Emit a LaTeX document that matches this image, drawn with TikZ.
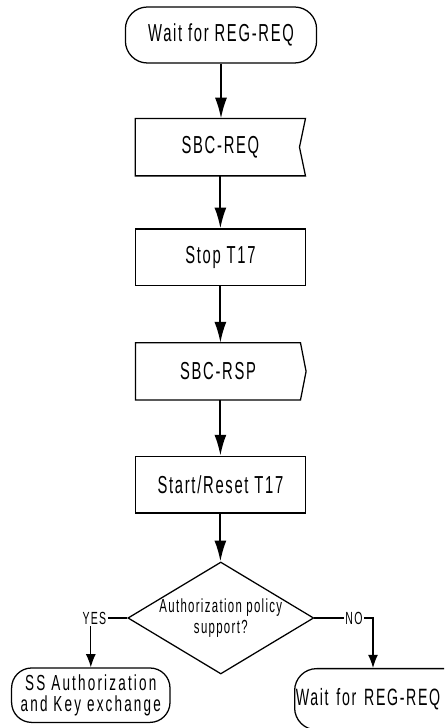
\documentclass[tikz,border=0pt]{standalone}
\usepackage{fontspec}
\setmainfont{Liberation Sans}[FakeStretch=0.6,LetterSpace=7]
\newfontfamily\spreadfont{Liberation Sans}[FakeStretch=0.62,LetterSpace=10]
\usetikzlibrary{calc,arrows.meta,shapes.geometric}

\begin{document}
\begin{tikzpicture}[
    terminal/.style={draw,line width=0.9pt,rounded corners=0.55cm,minimum width=4.78cm,minimum height=1.4cm,font=\fontsize{17.5}{18}\selectfont},
    process/.style={draw,line width=0.9pt,minimum width=4.24cm,minimum height=1.42cm,font=\fontsize{17.5}{18}\selectfont},
    signal/.style={inner sep=0pt,minimum width=4.24cm,minimum height=1.42cm,font=\fontsize{17.5}{18}\selectfont},
    decision/.style={draw,line width=0.9pt,diamond,aspect=1.66,inner sep=0pt,minimum width=4.12cm,minimum height=2.48cm,align=center,font=\fontsize{13.5}{14.5}\selectfont},
    branch/.style={inner sep=1pt,font=\fontsize{12.5}{13}\selectfont},
    bigarrow/.style={line width=1.3pt,-{Latex[length=5.2mm,width=3mm]}},
    smallarrow/.style={line width=0.9pt,-{Latex[length=3.3mm,width=2.5mm]}}
  ]
  \clip (0,0) rectangle (11.1,18.2);
  % chain of states and signals
  \node[terminal](wait)at(5.525,17.325){Wait for REG-REQ};
  \node[signal](req)at(5.51,14.52){SBC-REQ};
  \draw[line width=0.9pt] (req.north west) -- (req.north east) -- ([xshift=-0.15cm]req.east) -- (req.south east) -- (req.south west) -- cycle;
  \node[process](stop)at(5.51,11.765){Stop T17};
  \node[signal,minimum width=4.11cm](rsp)at(5.45,8.915){SBC-RSP};
  \draw[line width=0.9pt] (rsp.north west) -- (rsp.north east) -- ([xshift=0.14cm]rsp.east) -- (rsp.south east) -- (rsp.south west) -- cycle;
  \node[process](start)at(5.51,6.085){Start/Reset T17};
  \node[decision](auth)at(5.52,2.75){Authorization policy\\support?};
  \draw[bigarrow] (wait) -- (wait |- req.north);
  \draw[bigarrow] (req) -- (req |- stop.north);
  \draw[bigarrow] (stop) -- (stop |- rsp.north);
  \draw[bigarrow] (rsp.south -| stop) -- (start);
  \draw[bigarrow] (start) -- (start |- auth.north);
  % branches
  \node[branch](yes)at(2.36,2.75){YES};
  \node[branch](no)at(8.85,2.75){NO};
  \node[terminal,rounded corners=0.5cm,minimum width=3.96cm,minimum height=1.36cm,inner sep=0pt,align=center,font=\spreadfont\fontsize{15.5}{14.5}\selectfont](ss)at(2.27,0.82){SS Authorization\\and Key exchange};
  \node[terminal,anchor=north west,text width=4.72cm,inner xsep=0.03cm,align=left,minimum height=1.53cm,font=\fontsize{16.8}{18}\selectfont](again)at(7.35,1.5){Wait for REG-REQ};
  \draw[line width=0.9pt] (auth.west) -- (yes.east);
  \draw[line width=0.9pt] (auth.east) -- (no.west);
  \draw[smallarrow] (yes.south -| ss) -- (ss);
  \draw[smallarrow] (no.east) -| ([xshift=1.975cm]again.north west);
\end{tikzpicture}
\end{document}
